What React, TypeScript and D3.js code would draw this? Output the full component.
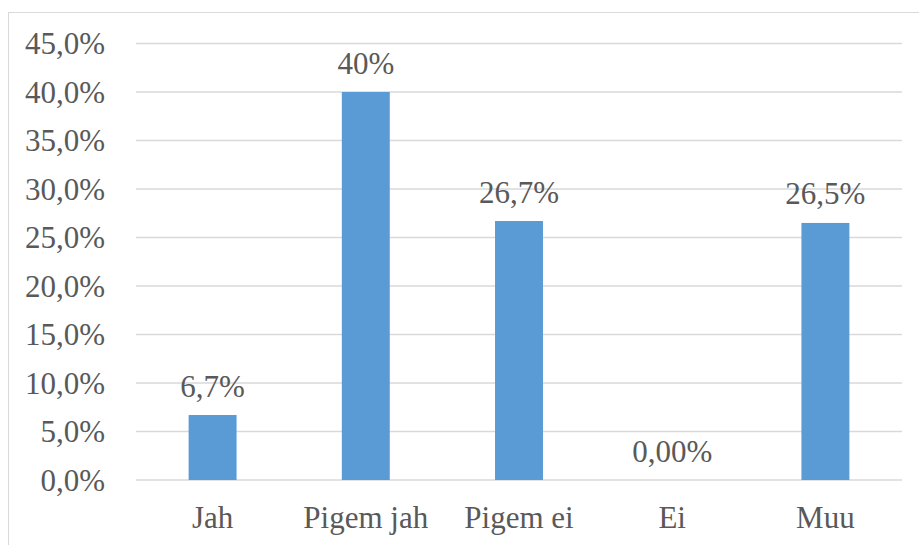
import React from "react";
import * as d3 from "d3";

const categories = ["Jah", "Pigem jah", "Pigem ei", "Ei", "Muu"];
const values = [6.7, 40, 26.7, 0, 26.5];
const valueLabels = ["6,7%", "40%", "26,7%", "0,00%", "26,5%"];
const yTicks = [0, 5, 10, 15, 20, 25, 30, 35, 40, 45];

const W = 919;
const H = 545;
const left = 136;
const right = 902;
const y0 = 480;
const yTop = 43.5;
const TEXT = "#595959";

export default function App() {
  const x = d3
    .scaleBand<string>()
    .domain(categories)
    .range([left, right])
    .paddingInner(0.687)
    .paddingOuter(0.3435);
  const y = d3.scaleLinear().domain([0, 45]).range([y0, yTop]);
  const fmt = (v: number) => v.toFixed(1).replace(".", ",") + "%";

  return (
    <svg
      width={W}
      height={H}
      style={{ position: "absolute", left: 0, top: 0, background: "#fff" }}
      fontFamily="Liberation Serif"
    >
      <rect x={8.5} y={12.5} width={920} height={560} fill="#fff" stroke="#D9D9D9" strokeWidth={1} />
      {yTicks.map((t) => (
        <g key={t}>
          <line x1={left} x2={right} y1={y(t)} y2={y(t)} stroke="#D9D9D9" strokeWidth={1.5} />
          <text x={105} y={y(t) + 10.5} textAnchor="end" fontFamily="Liberation Serif" fontSize={31} fill={TEXT}>
            {fmt(t)}
          </text>
        </g>
      ))}
      {categories.map((c, i) => {
        const bx = x(c)!;
        const bw = x.bandwidth();
        return (
          <g key={c}>
            {values[i] > 0 && (
              <rect x={bx} y={y(values[i])} width={bw} height={y0 - y(values[i])} fill="#5B9BD5" />
            )}
            <text x={bx + bw / 2} y={y(values[i]) - 18.5} textAnchor="middle" fontFamily="Liberation Serif" fontSize={31} fill={TEXT}>
              {valueLabels[i]}
            </text>
            <text x={bx + bw / 2} y={528} textAnchor="middle" fontFamily="Liberation Serif" fontSize={31} fill={TEXT}>
              {c}
            </text>
          </g>
        );
      })}
    </svg>
  );
}
